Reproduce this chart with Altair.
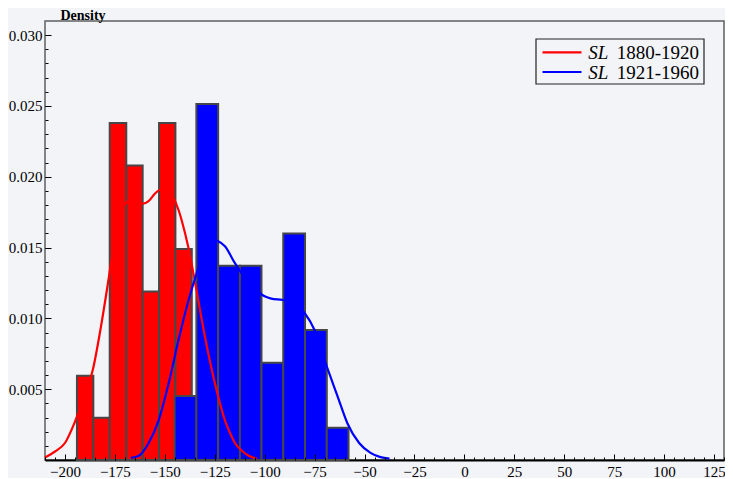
import altair as alt
import pandas as pd

# ---------------- data ----------------
red_edges = [-194.0, -185.8, -177.6, -169.3, -161.1, -152.9, -144.7, -136.5]
red_density = [0.00595, 0.00298, 0.0238, 0.0208, 0.0119, 0.0238, 0.0149]

blue_edges = [-145.1, -134.2, -123.3, -112.4, -101.6, -90.7, -79.8, -68.9, -58.0]
blue_density = [0.00452, 0.02514, 0.01372, 0.01372, 0.00687, 0.0160, 0.00918, 0.00228]

red_kde_x = [-210, -205, -200, -195, -190, -186, -182, -178.8, -177.5, -174, -171.5, -169.2,
             -167, -164, -161, -158, -155, -152, -149, -146, -143, -141.5, -138.2, -134.8,
             -131.5, -128.2, -124.9, -122, -119.9, -117, -114.9, -111, -108, -104]
red_kde_y = [0.00018, 0.0006, 0.0012, 0.0027, 0.0046, 0.0064, 0.0094, 0.0122, 0.0134, 0.0163,
             0.0176, 0.0182, 0.0184, 0.0182, 0.0181, 0.0183, 0.0188, 0.0191, 0.0191, 0.0186,
             0.0176, 0.0169, 0.0150, 0.0125, 0.0099, 0.0075, 0.0054, 0.0038, 0.0028, 0.0018,
             0.0012, 0.0006, 0.0003, 0.0001]

blue_kde_x = [-167, -163, -158.1, -153.1, -148.1, -143.1, -138.1, -134, -129.9, -126, -124,
              -119.9, -114.9, -111.6, -105, -102.5, -96.7, -90.9, -86, -80.1, -75.1, -69.4,
              -63.5, -58.6, -52.7, -47, -42, -37.5]
blue_kde_y = [0.00015, 0.0003, 0.0012, 0.0028, 0.0054, 0.0085, 0.0113, 0.0132, 0.0148, 0.0156,
              0.0155, 0.0151, 0.0139, 0.0132, 0.0122, 0.0118, 0.0114, 0.0113, 0.0111, 0.0104,
              0.0092, 0.0068, 0.0045, 0.0026, 0.0012, 0.0005, 0.0002, 0.0001]

x_major = list(range(-200, 126, 25))
x_minor = list(range(-210, 131, 5))
y_major = [0.005, 0.010, 0.015, 0.020, 0.025, 0.030]
y_minor = [round(i * 0.001, 3) for i in range(1, 31)]

y_title = "Density"
legend_symbol = "SL"
legend_labels = ["1880-1920", "1921-1960"]
series_colors = ["#ff0000", "#0000ff"]

# ---------------- layout ----------------
W, H = 679, 439
FONT = "Liberation Serif, DejaVu Serif, Times New Roman, serif"
BG = "#f2f4f8"
BAR_STROKE = "#474747"

xs = alt.Scale(domain=[-210, 130], nice=False, zero=False)
ys = alt.Scale(domain=[0, 0.031], nice=False, zero=False)

red_df = pd.DataFrame({"start": red_edges[:-1], "end": red_edges[1:], "density": red_density})
blue_df = pd.DataFrame({"start": blue_edges[:-1], "end": blue_edges[1:], "density": blue_density})
red_line_df = pd.DataFrame({"x": red_kde_x, "d": red_kde_y})
blue_line_df = pd.DataFrame({"x": blue_kde_x, "d": blue_kde_y})

x_label_axis = alt.Axis(orient="bottom", values=x_major, ticks=False, domain=True,
                        domainColor="black", domainWidth=2, labelFont=FONT, labelFontSize=15,
                        labelColor="black", labelPadding=4, grid=False, title=None,
                        labelFlush=False, labelOverlap=False)
y_label_axis = alt.Axis(orient="left", values=y_major, format=".3f", ticks=False, domain=False,
                        labelFont=FONT, labelFontSize=15, labelColor="black", labelPadding=3,
                        grid=False, title=y_title, titleAngle=0, titleX=15, titleY=-2,
                        titleAlign="left", titleBaseline="alphabetic", titleFont=FONT,
                        titleFontSize=14, titleFontWeight="bold", titleColor="black",
                        labelOverlap=False)

x_major_ticks = alt.Axis(orient="top", offset=-H, values=x_major, tickSize=6, labels=False,
                         domain=False, grid=False, title=None, tickColor="black", tickWidth=1,
                         zindex=1)
y_major_ticks = alt.Axis(orient="right", offset=-W, values=y_major, tickSize=6, labels=False,
                         domain=False, grid=False, title=None, tickColor="black", tickWidth=1,
                         zindex=1)
x_minor_ticks = alt.Axis(orient="top", offset=-H, values=x_minor, tickSize=3, labels=False,
                         domain=False, grid=False, title=None, tickColor="black", tickWidth=1,
                         zindex=1)
y_minor_ticks = alt.Axis(orient="right", offset=-W, values=y_minor, tickSize=3, labels=False,
                         domain=False, grid=False, title=None, tickColor="black", tickWidth=1,
                         zindex=1)

red_bars = alt.Chart(red_df).mark_rect(color=series_colors[0], stroke=BAR_STROKE,
                                       strokeWidth=2).encode(
    x=alt.X("start:Q", scale=xs, axis=x_label_axis),
    x2="end:Q",
    y=alt.Y("density:Q", scale=ys, axis=y_label_axis),
    y2=alt.datum(0),
)

blue_bars = alt.Chart(blue_df).mark_rect(color=series_colors[1], stroke=BAR_STROKE,
                                         strokeWidth=2).encode(
    x=alt.X("start:Q", scale=xs, axis=x_major_ticks),
    x2="end:Q",
    y=alt.Y("density:Q", scale=ys, axis=y_major_ticks),
    y2=alt.datum(0),
)

red_line = alt.Chart(red_line_df).mark_line(color=series_colors[0], strokeWidth=2.2,
                                            interpolate="monotone").encode(
    x=alt.X("x:Q", scale=xs, axis=x_minor_ticks),
    y=alt.Y("d:Q", scale=ys, axis=y_minor_ticks),
)

blue_line = alt.Chart(blue_line_df).mark_line(color=series_colors[1], strokeWidth=2.2,
                                              interpolate="monotone").encode(
    x=alt.X("x:Q", scale=xs, axis=None),
    y=alt.Y("d:Q", scale=ys, axis=None),
)

# ---------------- legend (drawn by hand: mixed italic / roman label) ----------------
LX0, LX1, LY0, LY1 = 491, 659, 18, 63
row_y = [31.3, 51.0]
legend_layers = [
    alt.Chart(pd.DataFrame({"k": [0]})).mark_rect(fillOpacity=0, stroke="#222222",
                                                  strokeWidth=1.2).encode(
        x=alt.value(LX0), x2=alt.value(LX1), y=alt.value(LY0), y2=alt.value(LY1))
]
for i, lab in enumerate(legend_labels):
    legend_layers.append(
        alt.Chart(pd.DataFrame({"k": [0]})).mark_rule(color=series_colors[i], strokeWidth=2.2).encode(
            x=alt.value(497.5), x2=alt.value(536.5), y=alt.value(row_y[i])))
    legend_layers.append(
        alt.Chart(pd.DataFrame({"t": [legend_symbol]})).mark_text(
            align="left", baseline="middle", font=FONT, fontSize=19, fontStyle="italic",
            color="black").encode(x=alt.value(543.3), y=alt.value(row_y[i] + 1), text="t:N"))
    legend_layers.append(
        alt.Chart(pd.DataFrame({"t": [lab]})).mark_text(
            align="left", baseline="middle", font=FONT, fontSize=19,
            color="black").encode(x=alt.value(571.7), y=alt.value(row_y[i] + 1), text="t:N"))

chart = alt.layer(red_bars, blue_bars, red_line, blue_line, *legend_layers).resolve_axis(
    x="independent", y="independent"
).properties(
    width=W, height=H,
    autosize=alt.AutoSizeParams(type="none"),
    padding={"left": 37, "top": 13, "right": 1, "bottom": 18},
    background=BG,
).configure_view(
    stroke="#5f5f5f", strokeWidth=1.5, fill=BG
)

chart.save("out.html", embed_options={"renderer": "svg", "actions": False})
